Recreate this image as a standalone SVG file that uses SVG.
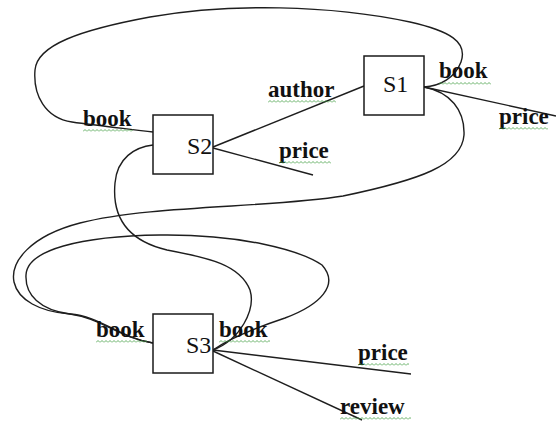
<svg xmlns="http://www.w3.org/2000/svg" width="556" height="421" viewBox="0 0 556 421">
  <defs>
    <pattern id="squiggle" width="4" height="3" patternUnits="userSpaceOnUse">
      <path d="M0,2.5 L2,0.5 L4,2.5" fill="none" stroke="#3f9a3f" stroke-width="0.8"/>
    </pattern>
    <style>
      .box { fill: #ffffff; stroke: #1a1a1a; stroke-width: 1.5; }
      .node-label { font-family: "Liberation Serif", "Times New Roman", serif; font-size: 24px; fill: #111; }
      .edge { fill: none; stroke: #1e1e1e; stroke-width: 1.4; }
      .lbl { font-family: "Liberation Serif", "Times New Roman", serif; font-size: 23px; font-weight: bold; fill: #111; }
      .sq { fill: url(#squiggle); }
    </style>
  </defs>
  <rect x="0" y="0" width="556" height="421" fill="#ffffff"/>

  <g id="connectors">
    <!-- S2 book loop over the top to S1 -->
    <path class="edge" d="M153,132 C130,129 100,126 72,122 C45,118 33,95 35,70 C37,45 80,30 150,17 C230,3 330,5 410,22 C450,31 468,42 461,62 C455,78 440,86 424,87"/>
    <!-- S1 book down to S3 left -->
    <path class="edge" d="M424,87 C450,92 465,110 464,135 C462,165 420,180 343,196 C270,208 150,205 80,223 C30,236 10,262 14,282 C18,300 40,312 70,314 C100,316 120,338 153,343"/>
    <!-- S3 left loop to S3 right -->
    <path class="edge" d="M153,343 C120,338 100,318 70,314 C40,310 25,295 26,275 C27,250 80,236 160,235 C240,234 300,250 322,265 C340,285 320,305 285,318 C255,328 230,338 213,350"/>
    <!-- S2 to S3 right -->
    <path class="edge" d="M153,145 C135,147 117,158 115,183 C112,215 125,240 167,250 C210,258 240,265 250,290 C256,310 240,340 213,350"/>
    <!-- straight edges -->
    <path class="edge" d="M213,147 L364,86"/>
    <path class="edge" d="M213,148 L313,175"/>
    <path class="edge" d="M424,87 L556,116"/>
    <path class="edge" d="M213,350 L411,374"/>
    <path class="edge" d="M213,351 L362,420"/>
  </g>

  <g id="S1">
    <rect class="box" x="364" y="56" width="60" height="59"/>
    <text class="node-label" x="383" y="92">S1</text>
  </g>
  <g id="S2">
    <rect class="box" x="153" y="115" width="60" height="59"/>
    <text class="node-label" x="187" y="154">S2</text>
  </g>
  <g id="S3">
    <rect class="box" x="153" y="314" width="60" height="59"/>
    <text class="node-label" x="186" y="353">S3</text>
  </g>

  <g id="labels">
    <text class="lbl" x="83" y="126">book</text>
    <rect class="sq" transform="translate(83,129)" width="50" height="3"/>
    <text class="lbl" x="268" y="97">author</text>
    <rect class="sq" transform="translate(268,100)" width="68" height="3"/>
    <text class="lbl" x="439" y="78">book</text>
    <rect class="sq" transform="translate(439,82)" width="52" height="3"/>
    <text class="lbl" x="499" y="124">price</text>
    <rect class="sq" transform="translate(499,127)" width="49" height="3"/>
    <text class="lbl" x="279" y="158">price</text>
    <rect class="sq" transform="translate(279,161)" width="52" height="3"/>
    <text class="lbl" x="96" y="337">book</text>
    <rect class="sq" transform="translate(96,340)" width="51" height="3"/>
    <text class="lbl" x="219" y="337">book</text>
    <rect class="sq" transform="translate(219,340)" width="51" height="3"/>
    <text class="lbl" x="358" y="360">price</text>
    <rect class="sq" transform="translate(358,363)" width="51" height="3"/>
    <text class="lbl" x="340" y="414">review</text>
    <rect class="sq" transform="translate(340,417)" width="71" height="3"/>
  </g>
</svg>
